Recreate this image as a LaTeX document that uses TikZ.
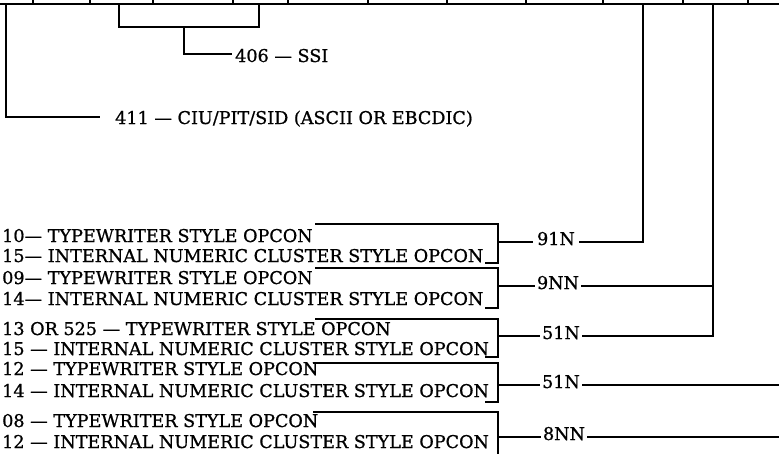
\documentclass[tikz,border=0pt]{standalone}
\usepackage{fontspec}
\setmainfont{DejaVu Serif}
\newfontfamily\heavyserif[FakeBold=0.9]{DejaVu Serif}
\usetikzlibrary{positioning}

\tikzset{
  lbl/.style={font=\heavyserif\fontsize{17.6}{20}\selectfont, anchor=base west, inner sep=0pt},
  tag/.style={font=\heavyserif\fontsize{17.6}{20}\selectfont, anchor=base, inner sep=0pt},
  wire/.style={line width=1.1pt},
}

\begin{document}
\begin{tikzpicture}[x=1pt,y=-1pt]
\useasboundingbox (0,0) rectangle (779,453);
\draw[line width=2.6pt] (0,4) -- (779,4);
\foreach \tx in {33,90,153,233,288,368,447,526,603,683,748}
  \draw[wire] (\tx,0) -- (\tx,4);

\draw[wire] (119,4) -- (119,27) -- (259,27) -- (259,4);
\coordinate (ssi) at (184,27);
\node[lbl] (t406) at (235,62) {406 — SSI};
\draw[wire] (ssi) |- (232,54);

\coordinate (ciu) at (6,4);
\node[lbl] (t411) at (115,124) {411 — CIU/PIT/SID (ASCII OR EBCDIC)};
\draw[wire] (ciu) |- (100,117);

\node[lbl] (t10) at (2,242) {10— TYPEWRITER STYLE OPCON};
\node[lbl] (t15) at (2,262) {15— INTERNAL NUMERIC CLUSTER STYLE OPCON};
\node[lbl] (t09) at (2,284) {09— TYPEWRITER STYLE OPCON};
\node[lbl] (t14) at (2,305) {14— INTERNAL NUMERIC CLUSTER STYLE OPCON};
\node[lbl] (t13) at (2,335) {13 OR 525 — TYPEWRITER STYLE OPCON};
\node[lbl] (t15b) at (2,355) {15 — INTERNAL NUMERIC CLUSTER STYLE OPCON};
\node[lbl] (t12) at (2,375) {12 — TYPEWRITER STYLE OPCON};
\node[lbl] (t14b) at (2,397) {14 — INTERNAL NUMERIC CLUSTER STYLE OPCON};
\node[lbl] (t08) at (2,427) {08 — TYPEWRITER STYLE OPCON};
\node[lbl] (t12b) at (2,448) {12 — INTERNAL NUMERIC CLUSTER STYLE OPCON};

\draw[wire] (315,224) -- (498,224) -- (498,263) -- (485,263);
\draw[wire] (315,268) -- (498,268) -- (498,308) -- (485,308);
\draw[wire] (315,319) -- (498,319) -- (498,357) -- (485,357);
\draw[wire] (313,363) -- (498,363) -- (498,402) -- (485,402);
\draw[wire] (313,412) -- (498,412) -- (498,460);

\coordinate (b1) at (498,242);
\coordinate (b2) at (498,286);
\coordinate (b3) at (498,336);
\coordinate (b4) at (498,385);
\coordinate (b5) at (498,437);
\coordinate (k91) at (643,4);
\coordinate (k51) at (713,4);
\coordinate (e4) at (779,385);
\coordinate (e5) at (779,437);

\node[tag] (n91) at (556,245) {91N};
\node[tag] (n9) at (558,289) {9NN};
\node[tag] (n51) at (561,339) {51N};
\node[tag] (n51b) at (561,388) {51N};
\node[tag] (n8) at (564,440) {8NN};

\draw[wire] (b1) -- ([xshift=-4pt]b1 -| n91.west);
\draw[wire] ([xshift=4pt]b1 -| n91.east) -| (k91);
\draw[wire] (b2) -- ([xshift=-2pt]b2 -| n9.west);
\draw[wire] ([xshift=2pt]b2 -| n9.east) -- (b2 -| k51);
\draw[wire] (b3) -- ([xshift=-2pt]b3 -| n51.west);
\draw[wire] ([xshift=2pt]b3 -| n51.east) -| (k51);
\draw[wire] (b4) -- ([xshift=-2pt]b4 -| n51b.west);
\draw[wire] ([xshift=2pt]b4 -| n51b.east) -- (e4);
\draw[wire] (b5) -- ([xshift=-2pt]b5 -| n8.west);
\draw[wire] ([xshift=2pt]b5 -| n8.east) -- (e5);
\end{tikzpicture}
\end{document}
